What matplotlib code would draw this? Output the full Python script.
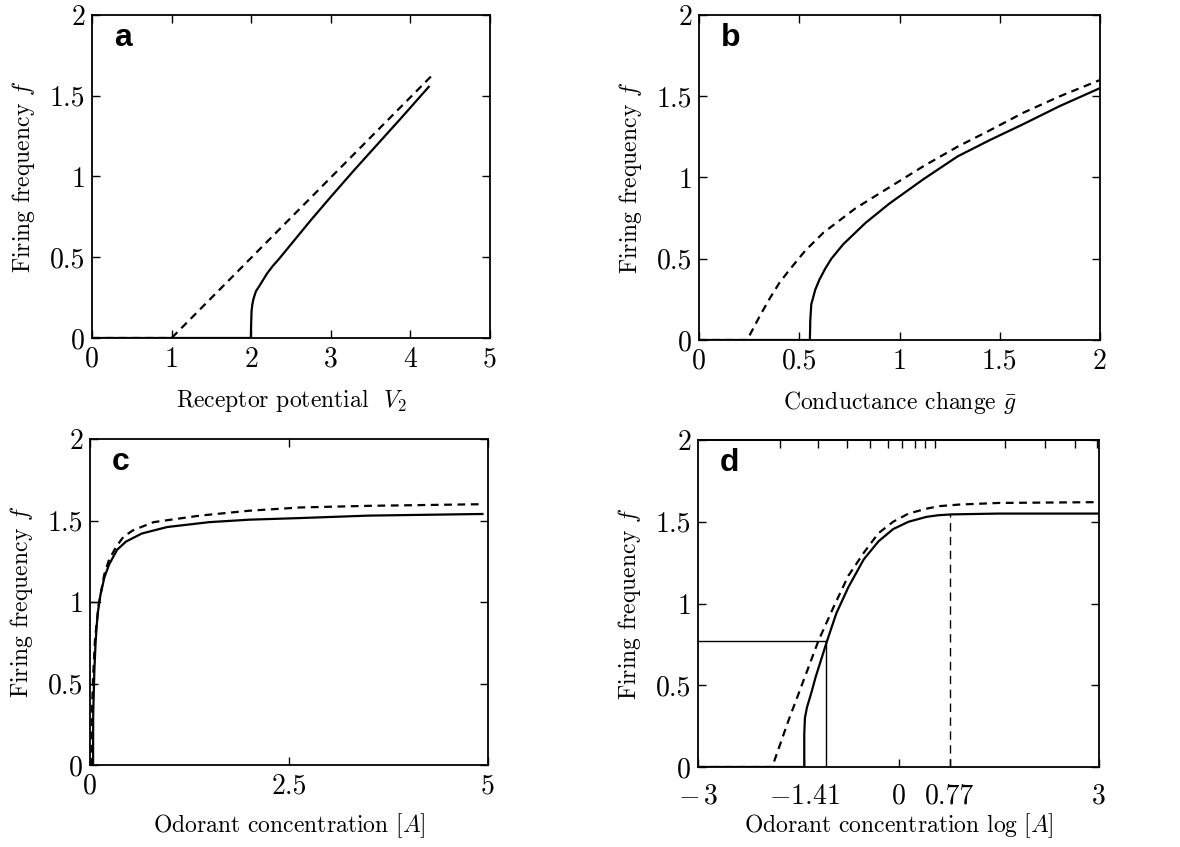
import matplotlib
matplotlib.use("Agg")
import matplotlib.pyplot as plt

plt.rcParams['font.family'] = ['cmr10', 'DejaVu Serif']
plt.rcParams['mathtext.fontset'] = 'cm'
plt.rcParams['axes.formatter.use_mathtext'] = True
plt.rcParams['axes.unicode_minus'] = True

# ---------------- data ----------------
# panel a: receptor potential V2
a_solid_x = [0, 1.995, 2.0, 2.005, 2.015, 2.03, 2.06, 2.1, 2.15, 2.2, 2.27, 2.35, 2.5, 2.75, 3.0, 3.3, 3.6, 3.9, 4.23]
a_solid_y = [0, 0, 0.10, 0.17, 0.21, 0.245, 0.29, 0.32, 0.36, 0.40, 0.445, 0.49, 0.58, 0.73, 0.874, 1.043, 1.207, 1.371, 1.555]
a_dash_x = [0, 1.0, 4.26]
a_dash_y = [0, 0, 1.62]

# panel b: conductance change
b_solid_x = [0, 0.553, 0.555, 0.56, 0.58, 0.60, 0.63, 0.66, 0.72, 0.83, 0.95, 1.12, 1.29, 1.45, 1.62, 1.80, 2.0]
b_solid_y = [0, 0, 0.12, 0.22, 0.31, 0.37, 0.44, 0.50, 0.59, 0.72, 0.84, 0.99, 1.13, 1.23, 1.33, 1.44, 1.55]
b_dash_x = [0, 0.24, 0.30, 0.35, 0.40, 0.45, 0.53, 0.62, 0.78, 0.95, 1.12, 1.29, 1.45, 1.62, 1.80, 2.0]
b_dash_y = [0, 0, 0.14, 0.25, 0.35, 0.43, 0.55, 0.66, 0.81, 0.94, 1.07, 1.19, 1.29, 1.40, 1.50, 1.60]

# panel c: odorant concentration [A]
c_solid_x = [0, 0.039, 0.040, 0.045, 0.055, 0.07, 0.085, 0.10, 0.13, 0.18, 0.24, 0.34, 0.45, 0.65, 0.97, 1.5, 2.0, 2.64, 3.5, 4.93]
c_solid_y = [0, 0, 0.30, 0.40, 0.58, 0.75, 0.86, 0.94, 1.04, 1.15, 1.23, 1.32, 1.37, 1.42, 1.46, 1.49, 1.505, 1.515, 1.53, 1.54]
c_dash_x = [0, 0.012, 0.022, 0.038, 0.063, 0.107, 0.18, 0.24, 0.33, 0.42, 0.54, 0.8, 1.38, 2.0, 2.64, 3.5, 4.93]
c_dash_y = [0, 0, 0.28, 0.53, 0.77, 0.98, 1.17, 1.26, 1.34, 1.40, 1.44, 1.49, 1.53, 1.56, 1.58, 1.59, 1.60]
c_guide_x = [0, 0.12]
c_guide_y = [1.0, 1.0]

# panel d: odorant concentration log[A]
d_solid_x = [-3, -1.41, -1.41, -1.40, -1.37, -1.30, -1.24, -1.07, -0.93, -0.75, -0.52, -0.30, -0.08, 0.15, 0.42, 0.60, 0.79, 1.5, 3]
d_solid_y = [0, 0, 0.20, 0.30, 0.364, 0.46, 0.55, 0.77, 0.94, 1.10, 1.27, 1.38, 1.455, 1.50, 1.53, 1.54, 1.545, 1.55, 1.55]
d_dash_x = [-3, -1.89, -1.65, -1.42, -1.20, -0.97, -0.75, -0.52, -0.30, -0.08, 0.15, 0.42, 0.60, 0.9, 1.5, 3]
d_dash_y = [0, 0, 0.28, 0.53, 0.77, 0.98, 1.17, 1.31, 1.43, 1.50, 1.55, 1.58, 1.595, 1.605, 1.615, 1.62]
d_hline_x = [-3, -1.08]
d_hline_y = [0.77, 0.77]
d_vline_x = [-1.08, -1.08]
d_vline_y = [0, 0.77]
d_vdash_x = [0.77, 0.77]
d_vdash_y = [0, 1.545]
d_top_ticks = [-1.77, -1.20, -0.77, -0.43, -0.16, 0.05, 0.25, 0.40, 0.55, 1.60, 2.19, 2.64, 2.97]

y_ticks = [0, 0.5, 1, 1.5, 2]
y_tick_labels = ['0', '0.5', '1', '1.5', '2']
a_xticks = [0, 1, 2, 3, 4, 5]
a_xtick_labels = ['0', '1', '2', '3', '4', '5']
b_xticks = [0, 0.5, 1, 1.5, 2]
b_xtick_labels = ['0', '0.5', '1', '1.5', '2']
c_xticks = [0, 2.5, 5]
c_xtick_labels = ['0', '2.5', '5']
d_xticks = [-3, -1.41, 0, 0.77, 3]
d_xtick_labels = [r'$-\,3$', r'$-1.41$', '0', '0.77', '3']

# ---------------- figure ----------------
W, H = 1180, 847
fig = plt.figure(figsize=(W / 100, H / 100), dpi=100)

def box(l, t, r, b):
    return [l / W, 1 - b / H, (r - l) / W, (b - t) / H]

axa = fig.add_axes(box(92, 15, 490, 338))
axb = fig.add_axes(box(699, 15, 1100, 340))
axc = fig.add_axes(box(90, 439, 488, 765))
axd = fig.add_axes(box(698, 440, 1099, 767))

LW = 1.6
TFS = 20
LFS = 17
DASH = (0, (3.5, 2.5))

def style(ax, xlim, xticks, xlabels, xlabel, letter, top=True, xpad=6, xlpad=10):
    ax.set_xlim(*xlim)
    ax.set_ylim(0, 2)
    ax.set_xticks(xticks)
    ax.set_xticklabels(xlabels, fontsize=TFS)
    ax.set_yticks(y_ticks)
    ax.set_yticklabels(y_tick_labels, fontsize=TFS)
    ax.tick_params(direction='in', length=6, width=1.0, top=top, right=True, pad=5)
    ax.tick_params(axis='x', pad=xpad)
    for s in ax.spines.values():
        s.set_linewidth(1.3)
    ax.set_ylabel(r'Firing frequency $f$', fontsize=LFS, labelpad=9)
    ax.set_xlabel(xlabel, fontsize=LFS, labelpad=xlpad)
    ax.text(0.055, 0.975, letter, transform=ax.transAxes, fontsize=23,
            fontweight='bold', family='Liberation Sans', va='top', ha='left')

axa.plot(a_solid_x, a_solid_y, color='black', lw=LW)
axa.plot(a_dash_x, a_dash_y, color='black', lw=LW, ls=DASH)
style(axa, (0, 5), a_xticks, a_xtick_labels, r'Receptor potential  $V_2$', 'a')

axb.plot(b_solid_x, b_solid_y, color='black', lw=LW)
axb.plot(b_dash_x, b_dash_y, color='black', lw=LW, ls=DASH)
style(axb, (0, 2), b_xticks, b_xtick_labels, r'Conductance change $\bar{g}$', 'b')

axc.plot(c_solid_x, c_solid_y, color='black', lw=LW)
axc.plot(c_dash_x, c_dash_y, color='black', lw=LW, ls=DASH)
axc.plot(c_guide_x, c_guide_y, color='black', lw=1.0)
style(axc, (0, 5), c_xticks, c_xtick_labels, r'Odorant concentration $[A]$', 'c', xlpad=8)

axd.plot(d_solid_x, d_solid_y, color='black', lw=LW)
axd.plot(d_dash_x, d_dash_y, color='black', lw=LW, ls=DASH)
axd.plot(d_hline_x, d_hline_y, color='black', lw=1.0)
axd.plot(d_vline_x, d_vline_y, color='black', lw=1.0)
axd.plot(d_vdash_x, d_vdash_y, color='black', lw=1.0, ls=(0, (6, 4)))
style(axd, (-3, 3), d_xticks, d_xtick_labels, r'Odorant concentration $\log\,[A]$', 'd',
      top=False, xpad=12, xlpad=1)
sec = axd.secondary_xaxis('top')
sec.set_xticks(d_top_ticks)
sec.set_xticklabels([''] * len(d_top_ticks))
sec.tick_params(direction='in', length=6, width=1.0)
sec.spines['top'].set_linewidth(1.3)

fig.savefig('out.png', dpi=100)
